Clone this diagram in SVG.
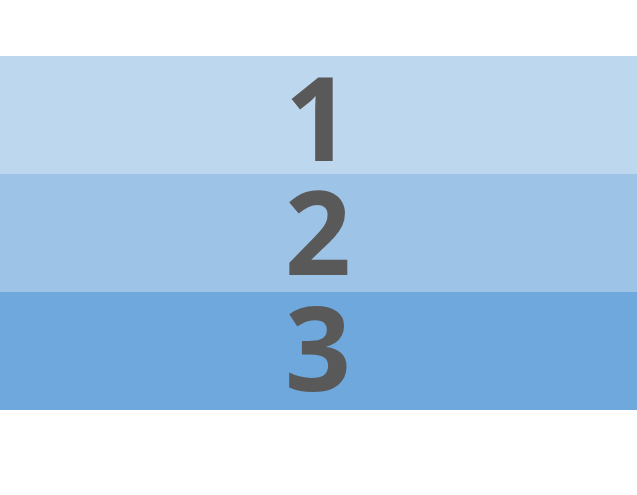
<svg xmlns="http://www.w3.org/2000/svg" width="637" height="495" viewBox="0 0 637 495">
<style>
.n{font-family:"Open Sans","Liberation Sans",sans-serif;font-weight:bold;font-size:116px;fill:#595959;text-anchor:middle}
</style>
<rect width="637" height="495" fill="#ffffff"/>
<g id="band1"><rect x="0" y="56" width="637" height="118" fill="#BDD7EE"/><text class="n" x="318" y="161">1</text></g>
<g id="band2"><rect x="0" y="174" width="637" height="118" fill="#9DC3E6"/><text class="n" x="318" y="275">2</text></g>
<g id="band3"><rect x="0" y="292" width="637" height="118" fill="#6FA8DC"/><text class="n" x="318" y="391">3</text></g>
<g id="connectors"/>
</svg>
